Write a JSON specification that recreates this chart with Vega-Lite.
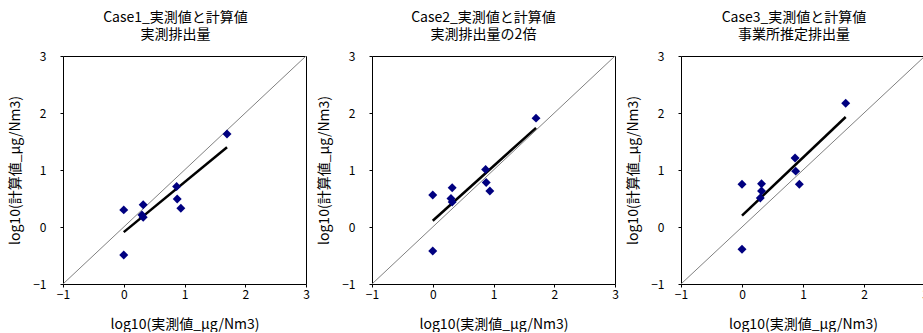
{
  "$schema": "https://vega.github.io/schema/vega-lite/v6.json",
  "background": "white",
  "padding": {"left": 8, "top": 10, "right": 0, "bottom": 0},
  "spacing": 7,
  "datasets": {
    "pts": [
      {"case": "Case1", "measured": 0.00, "calculated": 0.30},
      {"case": "Case1", "measured": 0.00, "calculated": -0.49},
      {"case": "Case1", "measured": 0.30, "calculated": 0.21},
      {"case": "Case1", "measured": 0.32, "calculated": 0.39},
      {"case": "Case1", "measured": 0.32, "calculated": 0.17},
      {"case": "Case1", "measured": 0.87, "calculated": 0.71},
      {"case": "Case1", "measured": 0.88, "calculated": 0.49},
      {"case": "Case1", "measured": 0.94, "calculated": 0.33},
      {"case": "Case1", "measured": 1.70, "calculated": 1.63},
      {"case": "Case2", "measured": 0.00, "calculated": 0.56},
      {"case": "Case2", "measured": 0.00, "calculated": -0.42},
      {"case": "Case2", "measured": 0.30, "calculated": 0.50},
      {"case": "Case2", "measured": 0.32, "calculated": 0.69},
      {"case": "Case2", "measured": 0.32, "calculated": 0.44},
      {"case": "Case2", "measured": 0.87, "calculated": 1.01},
      {"case": "Case2", "measured": 0.88, "calculated": 0.78},
      {"case": "Case2", "measured": 0.94, "calculated": 0.63},
      {"case": "Case2", "measured": 1.70, "calculated": 1.91},
      {"case": "Case3", "measured": 0.00, "calculated": 0.75},
      {"case": "Case3", "measured": 0.00, "calculated": -0.39},
      {"case": "Case3", "measured": 0.30, "calculated": 0.51},
      {"case": "Case3", "measured": 0.32, "calculated": 0.76},
      {"case": "Case3", "measured": 0.32, "calculated": 0.63},
      {"case": "Case3", "measured": 0.87, "calculated": 1.21},
      {"case": "Case3", "measured": 0.88, "calculated": 0.98},
      {"case": "Case3", "measured": 0.94, "calculated": 0.75},
      {"case": "Case3", "measured": 1.70, "calculated": 2.17}
    ],
    "trend": [
      {"case": "Case1", "measured": 0.00, "calculated": -0.09},
      {"case": "Case1", "measured": 1.70, "calculated": 1.40},
      {"case": "Case2", "measured": 0.00, "calculated": 0.11},
      {"case": "Case2", "measured": 1.70, "calculated": 1.74},
      {"case": "Case3", "measured": 0.00, "calculated": 0.20},
      {"case": "Case3", "measured": 1.70, "calculated": 1.93}
    ],
    "diag": [
      {"measured": -1, "calculated": -1},
      {"measured": 3, "calculated": 3}
    ]
  },
  "hconcat": [
    {
      "width": 243, "height": 228,
      "title": {"text": ["Case1_実測値と計算値", "実測排出量"], "dx": -9},
      "layer": [
        {"data": {"name": "diag"}, "mark": {"type": "line", "color": "#808080", "strokeWidth": 1},
         "encoding": {"x": {"field": "measured", "type": "quantitative", "scale": {"domain": [-1, 3], "nice": false}, "title": "log10(実測値_μg/Nm3)", "axis": {"values": [-1, 0, 1, 2, 3], "format": "d"}},
                      "y": {"field": "calculated", "type": "quantitative", "scale": {"domain": [-1, 3], "nice": false}, "title": "log10(計算値_μg/Nm3)", "axis": {"values": [-1, 0, 1, 2, 3], "format": "d"}}}},
        {"data": {"name": "trend"}, "transform": [{"filter": "datum.case === 'Case1'"}], "mark": {"type": "line", "color": "#000000", "strokeWidth": 2.5},
         "encoding": {"x": {"field": "measured", "type": "quantitative"}, "y": {"field": "calculated", "type": "quantitative"}}},
        {"data": {"name": "pts"}, "transform": [{"filter": "datum.case === 'Case1'"}], "mark": {"type": "point", "shape": "diamond", "filled": true, "color": "#000080", "size": 80, "opacity": 1},
         "encoding": {"x": {"field": "measured", "type": "quantitative"}, "y": {"field": "calculated", "type": "quantitative"}}}
      ]
    },
    {
      "width": 243, "height": 228,
      "title": {"text": ["Case2_実測値と計算値", "実測排出量の2倍"], "dx": -10},
      "layer": [
        {"data": {"name": "diag"}, "mark": {"type": "line", "color": "#808080", "strokeWidth": 1},
         "encoding": {"x": {"field": "measured", "type": "quantitative", "scale": {"domain": [-1, 3], "nice": false}, "title": "log10(実測値_μg/Nm3)", "axis": {"values": [-1, 0, 1, 2, 3], "format": "d"}},
                      "y": {"field": "calculated", "type": "quantitative", "scale": {"domain": [-1, 3], "nice": false}, "title": "log10(計算値_μg/Nm3)", "axis": {"values": [-1, 0, 1, 2, 3], "format": "d"}}}},
        {"data": {"name": "trend"}, "transform": [{"filter": "datum.case === 'Case2'"}], "mark": {"type": "line", "color": "#000000", "strokeWidth": 2.5},
         "encoding": {"x": {"field": "measured", "type": "quantitative"}, "y": {"field": "calculated", "type": "quantitative"}}},
        {"data": {"name": "pts"}, "transform": [{"filter": "datum.case === 'Case2'"}], "mark": {"type": "point", "shape": "diamond", "filled": true, "color": "#000080", "size": 80, "opacity": 1},
         "encoding": {"x": {"field": "measured", "type": "quantitative"}, "y": {"field": "calculated", "type": "quantitative"}}}
      ]
    },
    {
      "width": 244, "height": 228,
      "title": {"text": ["Case3_実測値と計算値", "事業所推定排出量"], "dx": -9},
      "layer": [
        {"data": {"name": "diag"}, "mark": {"type": "line", "color": "#808080", "strokeWidth": 1},
         "encoding": {"x": {"field": "measured", "type": "quantitative", "scale": {"domain": [-1, 3], "nice": false}, "title": "log10(実測値_μg/Nm3)", "axis": {"values": [-1, 0, 1, 2, 3], "format": "d"}},
                      "y": {"field": "calculated", "type": "quantitative", "scale": {"domain": [-1, 3], "nice": false}, "title": "log10(計算値_μg/Nm3)", "axis": {"values": [-1, 0, 1, 2, 3], "format": "d"}}}},
        {"data": {"name": "trend"}, "transform": [{"filter": "datum.case === 'Case3'"}], "mark": {"type": "line", "color": "#000000", "strokeWidth": 2.5},
         "encoding": {"x": {"field": "measured", "type": "quantitative"}, "y": {"field": "calculated", "type": "quantitative"}}},
        {"data": {"name": "pts"}, "transform": [{"filter": "datum.case === 'Case3'"}], "mark": {"type": "point", "shape": "diamond", "filled": true, "color": "#000080", "size": 80, "opacity": 1},
         "encoding": {"x": {"field": "measured", "type": "quantitative"}, "y": {"field": "calculated", "type": "quantitative"}}}
      ]
    }
  ],
  "config": {
    "font": "Noto Sans CJK JP",
    "view": {"stroke": "#000000", "strokeWidth": 1},
    "title": {"font": "Noto Sans CJK JP", "fontSize": 14, "fontWeight": "normal", "color": "#000000", "lineHeight": 17, "offset": 8, "anchor": "middle"},
    "axis": {"domain": false, "grid": false, "ticks": true, "tickColor": "#000000", "tickSize": 3, "labelFlush": false,
             "labelFont": "Noto Sans CJK JP", "labelFontSize": 12, "labelColor": "#000000",
             "titleFont": "Noto Sans CJK JP", "titleFontSize": 14, "titleFontWeight": "normal", "titleColor": "#000000"},
    "axisX": {"labelPadding": 2, "titlePadding": 17},
    "axisY": {"labelPadding": 14, "titlePadding": 10}
  }
}
